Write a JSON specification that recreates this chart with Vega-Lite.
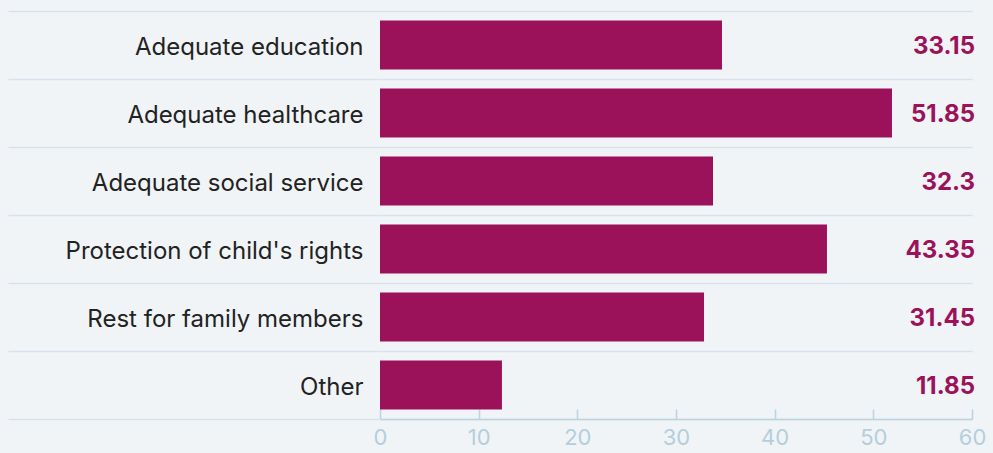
{
  "$schema": "https://vega.github.io/schema/vega-lite/v6.json",
  "autosize": {"type": "none"},
  "padding": {"left": 380, "top": 11, "right": 21, "bottom": 34},
  "width": 592,
  "height": 408,
  "background": "#f0f4f7",
  "config": {"view": {"stroke": null}, "font": "Inter"},
  "data": {
    "values": [
      {"category": "Adequate education", "bar": 34.66, "share": 33.15},
      {"category": "Adequate healthcare", "bar": 51.89, "share": 51.85},
      {"category": "Adequate social service", "bar": 33.75, "share": 32.3},
      {"category": "Protection of child's rights", "bar": 45.3, "share": 43.35},
      {"category": "Rest for family members", "bar": 32.84, "share": 31.45},
      {"category": "Other", "bar": 12.36, "share": 11.85}
    ]
  },
  "encoding": {
    "y": {
      "field": "category",
      "type": "nominal",
      "sort": null,
      "scale": {"paddingInner": 0, "paddingOuter": 0},
      "axis": {
        "title": null,
        "domain": false,
        "ticks": true,
        "tickBand": "extent",
        "tickSize": 372,
        "tickColor": "#d8e2ea",
        "tickWidth": 1.5,
        "grid": true,
        "gridColor": "#d8e2ea",
        "gridWidth": 1.5,
        "labelPadding": -355,
        "labelOffset": 2,
        "labelFontSize": 24,
        "labelColor": "#222222",
        "labelFont": "Inter",
        "labelLimit": 400
      }
    }
  },
  "layer": [
    {
      "mark": {"type": "bar", "color": "#9b125a", "height": {"band": 0.72}},
      "encoding": {
        "x": {
          "field": "bar",
          "type": "quantitative",
          "scale": {"domain": [0, 60], "nice": false},
          "axis": {
            "title": null,
            "values": [0, 10, 20, 30, 40, 50, 60],
            "grid": false,
            "domainColor": "#bcd3e0",
            "domainWidth": 1.5,
            "tickColor": "#bcd3e0",
            "tickWidth": 1.5,
            "tickSize": -10,
            "labelColor": "#b5cedc",
            "labelFontSize": 22,
            "labelFont": "Inter",
            "labelPadding": 18,
            "labelFlush": false
          }
        }
      }
    },
    {
      "mark": {"type": "text", "align": "right", "baseline": "middle", "dx": 3, "dy": 2, "fontSize": 24, "fontWeight": "bold", "font": "Inter", "color": "#9b125a"},
      "encoding": {
        "x": {"value": "width"},
        "text": {"field": "share", "type": "quantitative", "format": ".2~f"}
      }
    }
  ]
}
